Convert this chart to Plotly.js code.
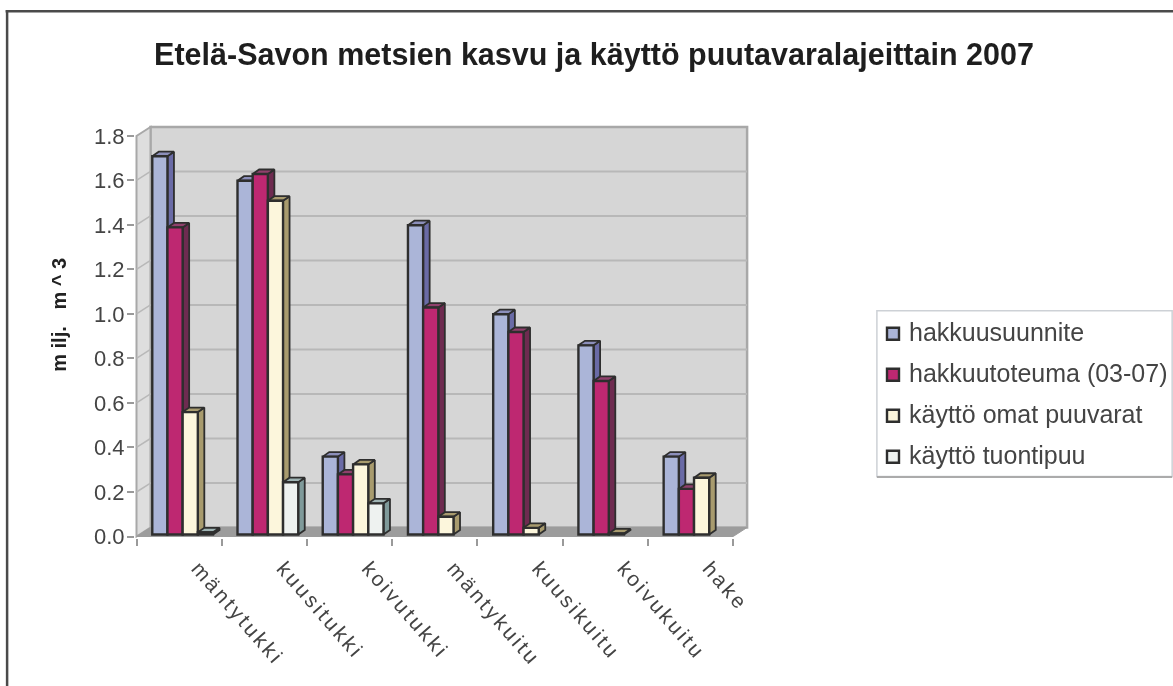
<!DOCTYPE html>
<html>
<head>
<meta charset="utf-8">
<script src="https://cdn.plot.ly/plotly-3.0.1.min.js"></script>
<style>
html,body{margin:0;padding:0;background:#fff;overflow:hidden}
#chart{width:1173px;height:686px;filter:blur(0.75px)}
.xtick text{letter-spacing:2.8px}
.legendtext{transform:translate(-4px,-3px)}
path.legendbar{transform:translate(22px,0) scale(1.25)}
g.legend{transform:translate(873px,311px)}
</style>
</head>
<body>
<div id="chart"></div>
<script>
const categories = ['mäntytukki','kuusitukki','koivutukki','mäntykuitu','kuusikuitu','koivukuitu','hake'];
const hakkuusuunnite = [1.70,1.59,0.35,1.39,0.99,0.85,0.35];
const hakkuutoteuma  = [1.38,1.62,0.27,1.02,0.91,0.69,0.205];
const omatPuuvarat   = [0.55,1.50,0.315,0.08,0.03,0.005,0.255];
const tuontipuu      = [0.01,0.235,0.14,null,null,null,null];
const seriesNames = ['hakkuusuunnite','hakkuutoteuma (03-07)','käyttö omat puuvarat','käyttö tuontipuu'];
const seriesValues = [hakkuusuunnite,hakkuutoteuma,omatPuuvarat,tuontipuu];
const frontColors = ['#ABB5D8','#BE2871','#FCF6DC','#EEF2F0'];
const sideColors  = ['#6A6BA6','#6E2B50','#A89B6E','#7F9A9A'];
const topColors   = ['#8C8FBB','#90406C','#A89B6E','#9FB4B4'];
const yTicks = [0,0.2,0.4,0.6,0.8,1.0,1.2,1.4,1.6,1.8];

const W = 1173, H = 686;
const pxCat = 85.3, pxUnit = 222.8;
const zeroX = 136, zeroY = 537;
const plotL = 134.5, plotR = 750, plotT = 125, plotB = 538.5;
const xRange = [-0.5 + (plotL - zeroX)/pxCat, -0.5 + (plotR - zeroX)/pxCat];
const yRange = [(zeroY - plotB)/pxUnit, (zeroY - plotT)/pxUnit];
const wallDx = 14/pxCat, wallDy = 9/pxUnit;
const barDx = 6.5/pxCat, barDy = 4.5/pxUnit;
const barW = 15.2/pxCat, groupOff = -0.315, barBase = 2/pxUnit;
const edge = '#2E2E2E';

const idx = categories.map((_, i) => i);
const traces = [];
seriesNames.forEach((name, s) => {
  const sx = [], sy = [], tx = [], ty = [];
  seriesValues[s].forEach((v, i) => {
    if (v === null) return;
    const x0 = i + groupOff + s*barW, x1 = x0 + barW, yb = barBase, yt = barBase + v;
    sx.push(x1, x1+barDx, x1+barDx, x1, x1, null);
    sy.push(yb, yb+barDy, yt+barDy, yt, yb, null);
    tx.push(x0, x0+barDx, x1+barDx, x1, x0, null);
    ty.push(yt, yt+barDy, yt+barDy, yt, yt, null);
  });
  traces.push({type:'scatter', mode:'lines', x:sx, y:sy, fill:'toself', fillcolor:sideColors[s],
    line:{color:edge,width:1.8}, showlegend:false, hoverinfo:'skip', zorder:2*s+1});
  traces.push({type:'scatter', mode:'lines', x:tx, y:ty, fill:'toself', fillcolor:topColors[s],
    line:{color:edge,width:1.8}, showlegend:false, hoverinfo:'skip', zorder:2*s+1});
});
seriesNames.forEach((name, s) => {
  traces.push({type:'bar', name:name, x:idx, y:seriesValues[s], base:barBase,
    width:barW, offset:groupOff + s*barW, legendgroup:'g'+s, zorder:2*s+2,
    marker:{color:frontColors[s], line:{color:edge,width:2.4}}});
});

const wallLine = '#A8A8A8', gridLine = '#B8B8B8';
const xl = -0.5, xr = 6.5;
const poly = (pts, fill, lineColor, lw) => ({type:'path', layer:'below', xref:'x', yref:'y',
  path:'M' + pts.map(p => p[0]+','+p[1]).join('L') + 'Z', fillcolor:fill,
  line:{color:lineColor, width:lw}});
const yTop = yTicks[yTicks.length-1];
const shapes = [
  poly([[xl+wallDx,wallDy],[xr+wallDx,wallDy],[xr+wallDx,yTop+wallDy],[xl+wallDx,yTop+wallDy]],'#D6D6D6',wallLine,2.5),
  poly([[xl,0],[xl+wallDx,wallDy],[xl+wallDx,yTop+wallDy],[xl,yTop]],'#DEDEDE',wallLine,2)
];
yTicks.slice(1,-1).forEach(t => {
  shapes.push({type:'line',layer:'below',xref:'x',yref:'y',x0:xl+wallDx,x1:xr+wallDx,y0:t+wallDy,y1:t+wallDy,line:{color:gridLine,width:2}});
  shapes.push({type:'line',layer:'below',xref:'x',yref:'y',x0:xl,x1:xl+wallDx,y0:t,y1:t+wallDy,line:{color:gridLine,width:1.5}});
});
shapes.push(poly([[xl,0],[xl+wallDx,wallDy],[xr+wallDx,wallDy],[xr,0]],'#9C9C9C','#9C9C9C',1));

const pw = plotR - plotL, ph = plotB - plotT;
const paperX = px => (px - plotL)/pw, paperY = py => (plotB - py)/ph;
shapes.push({type:'line',xref:'paper',yref:'paper',x0:paperX(6.5),x1:paperX(6.5),y0:paperY(10),y1:paperY(690),line:{color:'#4A4A4A',width:2.5}});
shapes.push({type:'line',xref:'paper',yref:'paper',x0:paperX(5),x1:paperX(1180),y0:paperY(11),y1:paperY(11),line:{color:'#4A4A4A',width:2.5}});
shapes.push({type:'rect',layer:'below',xref:'paper',yref:'paper',x0:paperX(877),x1:paperX(1172.5),y0:paperY(477),y1:paperY(311),fillcolor:'#FFFFFF',line:{color:'#CDD1D6',width:1.5}});
shapes.push({type:'line',layer:'below',xref:'paper',yref:'paper',x0:paperX(877),x1:paperX(1172.5),y0:paperY(477.5),y1:paperY(477.5),line:{color:'#ABABAB',width:2}});

const boundaries = categories.map((_, i) => i - 0.5).concat([categories.length - 0.5]);
const layout = {
  width:W, height:H, autosize:false, showlegend:true,
  paper_bgcolor:'rgba(0,0,0,0)', plot_bgcolor:'rgba(0,0,0,0)',
  margin:{l:plotL, r:W-plotR, t:plotT, b:H-plotB, pad:0},
  barmode:'overlay',
  font:{family:'"Liberation Sans", Arial, sans-serif', color:'#3A3A3A'},
  title:{text:'Etelä-Savon metsien kasvu ja käyttö puutavaralajeittain 2007',
    x:594/W, xanchor:'center', y:1-54/H, yanchor:'middle',
    font:{size:30.5, color:'#1E1E1E', weight:'bold'}},
  xaxis:{type:'linear', range:xRange, fixedrange:true, showgrid:false, zeroline:false, showline:false,
    tickmode:'array', tickvals:idx, ticktext:categories, ticks:'', tickangle:49,
    ticklabelstandoff:13, ticklabelshift:19,
    tickfont:{size:21, color:'#444444'},
    minor:{tickmode:'array', tickvals:boundaries, ticks:'outside', ticklen:7, tickwidth:2, tickcolor:'#9A9A9A', showgrid:false}},
  yaxis:{type:'linear', range:yRange, fixedrange:true, showgrid:false, zeroline:false, showline:false,
    tickmode:'array', tickvals:yTicks, tickformat:'.1f', ticks:'outside', ticklen:7, tickwidth:2, tickcolor:'#9A9A9A',
    ticklabelstandoff:-2,
    tickfont:{size:22, color:'#444444'},
    title:{text:'&nbsp;&nbsp;&nbsp;&nbsp;&nbsp;&nbsp;m ilj. &nbsp; m ^ 3', standoff:22, font:{size:20, color:'#222222', weight:'bold'}}},
  legend:{x:paperX(850), xanchor:'left', y:paperY(311), yanchor:'top', bgcolor:'rgba(0,0,0,0)', borderwidth:0,
    tracegroupgap:5.5, itemclick:false, itemdoubleclick:false,
    font:{size:25, color:'#444444'}},
  shapes:shapes
};
Plotly.newPlot('chart', traces, layout, {displayModeBar:false, staticPlot:true});
</script>
</body>
</html>
